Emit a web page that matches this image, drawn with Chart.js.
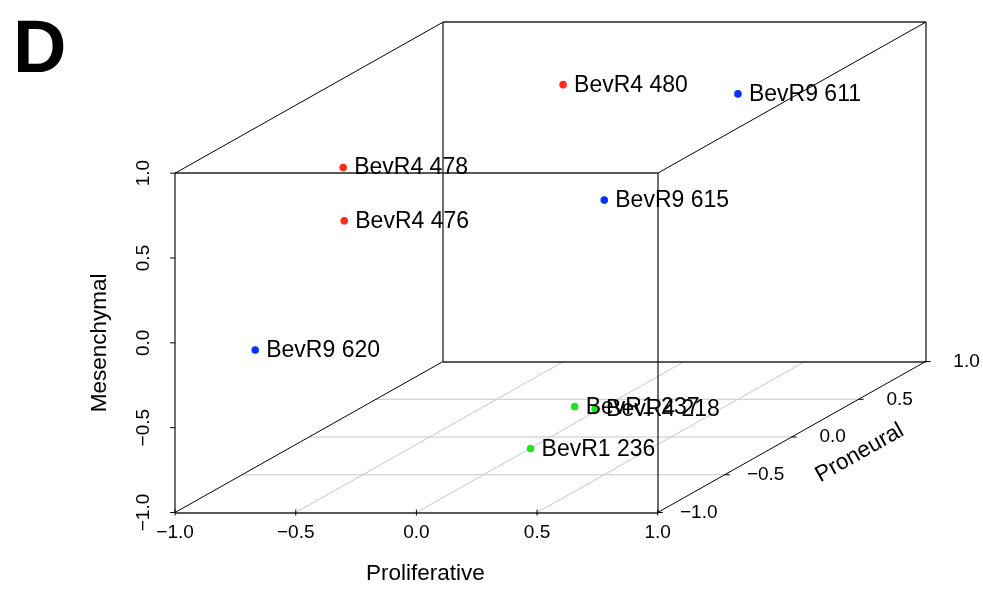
<!DOCTYPE html>
<html>
<head>
<meta charset="utf-8">
<script src="https://cdn.jsdelivr.net/npm/chart.js@4"></script>
<style>
  body { margin: 0; background: #fff; }
  canvas { display: block; }
</style>
</head>
<body>
<canvas id="chart" width="983" height="589"></canvas>
<script>
// samples and their three subtype scores
const samples = ['BevR4 480', 'BevR9 611', 'BevR4 478', 'BevR4 476', 'BevR9 615', 'BevR9 620', 'BevR1 237', 'BevR4 218', 'BevR1 236'];
const proliferative = [-0.28, 0.50, -0.47, -0.41, 0.39, -0.89, -0.01, 0.13, 0.14];
const proneural = [0.60, 0.50, -0.70, -0.80, -0.30, -0.60, 0.20, 0.10, -0.40];
const mesenchymal = [0.81, 0.80, 0.90, 0.63, 0.53, -0.22, -0.91, -0.88, -0.89];
const clusters = ['red', 'blue', 'red', 'red', 'blue', 'blue', 'green', 'green', 'green'];
const clusterColors = { red: '#ff2a1a', blue: '#0433ff', green: '#1ee61e' };

const ticks = [-1, -0.5, 0, 0.5, 1];
const tickLabels = ['\u22121.0', '\u22120.5', '0.0', '0.5', '1.0'];

// oblique projection of the depth axis (proneural)
const DX = 0.5549;
const DZ = 0.4448;
const project = (x, y, z) => ({ x: x + DX * (y + 1), y: z + DZ * (y + 1) });

const points = samples.map((s, i) => project(proliferative[i], proneural[i], mesenchymal[i]));

const $chart = document.querySelector('#chart');
const context = $chart.getContext('2d');

const boxPlugin = {
  id: 'box3d',
  beforeDatasetsDraw(chart) {
    const { ctx } = chart;
    const sx = chart.scales.x;
    const sy = chart.scales.y;
    const pix = (x, y, z) => {
      const p = project(x, y, z);
      return [sx.getPixelForValue(p.x), sy.getPixelForValue(p.y)];
    };
    const line = (a, b) => {
      ctx.beginPath();
      ctx.moveTo(a[0], a[1]);
      ctx.lineTo(b[0], b[1]);
      ctx.stroke();
    };
    ctx.save();
    // floor grid
    ctx.strokeStyle = '#c8c8c8';
    ctx.lineWidth = 1;
    [-0.5, 0, 0.5].forEach((t) => {
      line(pix(-1, t, -1), pix(1, t, -1));
      line(pix(t, -1, -1), pix(t, 1, -1));
    });
    // box faces (axis aligned lines, snapped to pixels)
    const snap = (p) => [Math.round(p[0]), Math.round(p[1])];
    ctx.strokeStyle = '#222';
    ctx.lineWidth = 1.3;
    [-1, 1].forEach((y) => {
      line(snap(pix(-1, y, -1)), snap(pix(1, y, -1)));
      line(snap(pix(-1, y, 1)), snap(pix(1, y, 1)));
      line(snap(pix(-1, y, -1)), snap(pix(-1, y, 1)));
      line(snap(pix(1, y, -1)), snap(pix(1, y, 1)));
    });
    // depth edges
    ctx.strokeStyle = '#000';
    ctx.lineWidth = 1;
    [-1, 1].forEach((x) => {
      [-1, 1].forEach((z) => line(pix(x, -1, z), pix(x, 1, z)));
    });
    // ticks
    ticks.forEach((t) => {
      const a = pix(t, -1, -1);
      line([a[0], a[1] - 3], [a[0], a[1] + 3]);
      const b = pix(-1, -1, t);
      line(b, [b[0] - 5, b[1]]);
      const c = pix(1, t, -1);
      line(c, [c[0] + 5, c[1]]);
    });
    // tick labels
    ctx.fillStyle = '#000';
    ctx.font = '19px "Liberation Sans", Arial, sans-serif';
    ctx.textAlign = 'center';
    ctx.textBaseline = 'middle';
    ticks.forEach((t, i) => {
      const a = pix(t, -1, -1);
      ctx.fillText(tickLabels[i], a[0], a[1] + 20);
      const c = pix(1, t, -1);
      ctx.fillText(tickLabels[i], c[0] + 41, c[1]);
      const b = pix(-1, -1, t);
      ctx.save();
      ctx.translate(b[0] - 31, b[1]);
      ctx.rotate(-Math.PI / 2);
      ctx.fillText(tickLabels[i], 0, 0);
      ctx.restore();
    });
    // axis titles
    ctx.font = '22.5px "Liberation Sans", Arial, sans-serif';
    const bx = pix(0, -1, -1);
    ctx.fillText('Proliferative', bx[0] + 9, bx[1] + 61);
    const bz = pix(-1, -1, 0);
    ctx.save();
    ctx.translate(bz[0] - 75, bz[1]);
    ctx.rotate(-Math.PI / 2);
    ctx.fillText('Mesenchymal', 0, 0);
    ctx.restore();
    const p0 = pix(1, -1, -1);
    const p1 = pix(1, 1, -1);
    const by = pix(1, 0, -1);
    ctx.save();
    ctx.translate(by[0] + 68, by[1] + 16);
    ctx.rotate(Math.atan2(p1[1] - p0[1], p1[0] - p0[0]));
    ctx.fillText('Proneural', 0, 0);
    ctx.restore();
    // panel letter
    ctx.textAlign = 'left';
    ctx.textBaseline = 'alphabetic';
    ctx.font = 'bold 74px "Liberation Sans", Arial, sans-serif';
    ctx.fillText('D', 13, 72);
    ctx.restore();
  },
  afterDatasetsDraw(chart) {
    const { ctx } = chart;
    const meta = chart.getDatasetMeta(0);
    ctx.save();
    ctx.fillStyle = '#000';
    ctx.font = '23px "Liberation Sans", Arial, sans-serif';
    ctx.textAlign = 'left';
    ctx.textBaseline = 'alphabetic';
    meta.data.forEach((el, i) => {
      ctx.fillText(samples[i], el.x + 11, el.y + 7);
    });
    ctx.restore();
  }
};

new Chart(context, {
  type: 'scatter',
  data: {
    datasets: [{
      data: points,
      pointRadius: 3.8,
      pointBorderWidth: 0,
      pointBackgroundColor: clusters.map((c) => clusterColors[c]),
      pointBorderColor: clusters.map((c) => clusterColors[c])
    }]
  },
  options: {
    responsive: false,
    animation: false,
    layout: { padding: 0 },
    plugins: { legend: { display: false }, tooltip: { enabled: false } },
    scales: {
      x: { type: 'linear', display: false, min: -1.709, max: 2.3313 },
      y: { type: 'linear', display: false, min: -1.4273, max: 1.997 }
    }
  },
  plugins: [boxPlugin]
});
</script>
</body>
</html>
